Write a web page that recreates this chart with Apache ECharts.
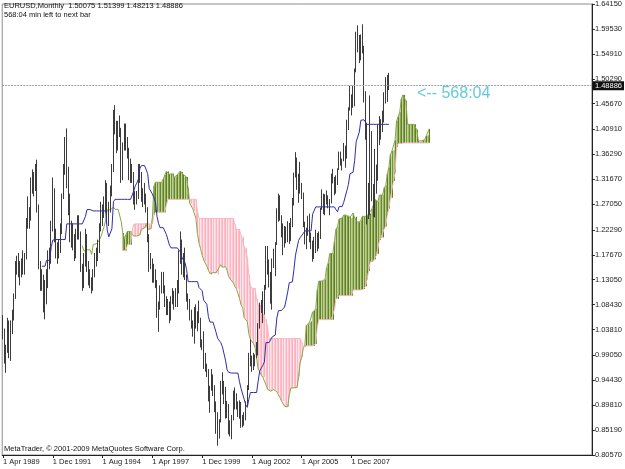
<!DOCTYPE html>
<html>
<head>
<meta charset="utf-8">
<script src="https://cdn.jsdelivr.net/npm/echarts@6/dist/echarts.min.js"></script>
<style>
html,body{margin:0;padding:0;background:#fff;}
#chart{width:625px;height:469px;}
</style>
</head>
<body>
<div id="chart"></div>
<script>
// ---- monthly EURUSD bars, Apr 1989 .. Dec 2009 (index 0 = Apr 1989) ----
const barOpen = [
1.045,1.035,0.985,1.005,1.050,0.995,1.050,1.068,1.100,
1.158,1.155,1.158,1.143,1.163,1.157,1.172,1.238,1.256,1.246,1.305,1.322,
1.303,1.313,1.262,1.157,1.124,1.131,1.081,1.124,1.124,1.178,1.164,1.230,
1.287,1.207,1.178,1.185,1.185,1.222,1.287,1.330,1.377,1.330,1.278,1.222,
1.207,1.207,1.178,1.215,1.238,1.215,1.150,1.124,1.164,1.207,1.157,1.131,
1.124,1.118,1.144,1.171,1.185,1.185,1.230,1.254,1.262,1.262,1.304,1.246,
1.262,1.295,1.340,1.417,1.417,1.377,1.417,1.407,1.322,1.377,1.397,1.387,
1.368,1.322,1.340,1.322,1.278,1.278,1.287,1.330,1.322,1.278,1.287,1.278,
1.262,1.207,1.157,1.164,1.131,1.144,1.124,1.063,1.087,1.111,1.131,1.111,
1.087,1.075,1.081,1.057,1.093,1.105,1.087,1.105,1.111,1.171,1.200,1.144,
1.171,1.137,1.098,1.078,1.058,1.043,1.035,1.072,1.054,1.068,1.055,1.007,
1.007,0.970,0.965,0.957,0.912,0.934,0.952,0.930,0.887,0.883,0.849,0.870,
0.939,0.933,0.921,0.879,0.888,0.847,0.848,0.877,0.913,0.911,0.904,0.890,
0.890,0.860,0.870,0.872,0.901,0.933,0.991,0.978,0.981,0.987,0.989,0.993,
1.049,1.073,1.078,1.091,1.116,1.180,1.150,1.125,1.099,1.165,1.159,1.199,
1.259,1.248,1.248,1.231,1.197,1.220,1.218,1.203,1.218,1.243,1.276,1.326,
1.356,1.304,1.326,1.296,1.288,1.230,1.210,1.212,1.232,1.203,1.199,1.179,
1.184,1.215,1.193,1.211,1.263,1.281,1.279,1.277,1.281,1.268,1.276,1.324,
1.320,1.299,1.323,1.335,1.365,1.345,1.354,1.369,1.364,1.426,1.448,1.463,
1.459,1.486,1.519,1.579,1.560,1.555,1.575,1.560,1.468,1.408,1.273,1.270,
1.397,1.280,1.267,1.325,1.323,1.415,1.403,1.426,1.433,1.464,1.472,1.50075
];
const barHigh = [
1.065,1.040,1.010,1.060,1.055,1.055,1.075,1.105,1.165,
1.175,1.180,1.165,1.170,1.185,1.180,1.245,1.285,1.265,1.320,1.335,1.330,
1.345,1.353,1.270,1.165,1.150,1.140,1.130,1.150,1.185,1.190,1.240,1.320,
1.300,1.225,1.200,1.205,1.235,1.290,1.345,1.395,1.411,1.340,1.290,1.240,
1.235,1.215,1.225,1.250,1.250,1.220,1.160,1.180,1.225,1.215,1.165,1.150,
1.135,1.150,1.180,1.190,1.205,1.235,1.275,1.270,1.285,1.315,1.310,1.275,
1.305,1.345,1.445,1.454,1.425,1.425,1.435,1.412,1.385,1.420,1.420,1.395,
1.375,1.355,1.345,1.330,1.295,1.295,1.345,1.345,1.330,1.300,1.310,1.290,
1.265,1.215,1.180,1.170,1.160,1.150,1.130,1.090,1.120,1.145,1.145,1.120,
1.100,1.095,1.090,1.100,1.115,1.110,1.115,1.130,1.185,1.220,1.205,1.180,
1.190,1.140,1.105,1.095,1.075,1.055,1.080,1.085,1.072,1.092,1.060,1.020,
1.035,0.995,0.975,0.965,0.934,0.965,0.955,0.935,0.905,0.885,0.872,0.943,
0.959,0.943,0.932,0.906,0.900,0.870,0.880,0.925,0.931,0.920,0.905,0.907,
0.904,0.880,0.885,0.905,0.935,0.995,1.020,0.990,0.995,0.992,1.015,1.050,
1.088,1.093,1.109,1.121,1.193,1.193,1.168,1.145,1.170,1.188,1.200,1.263,
1.290,1.287,1.250,1.235,1.230,1.229,1.239,1.236,1.245,1.282,1.329,1.367,
1.357,1.327,1.349,1.310,1.292,1.238,1.227,1.249,1.253,1.218,1.203,1.210,
1.223,1.217,1.220,1.264,1.298,1.290,1.289,1.296,1.287,1.280,1.327,1.336,
1.321,1.324,1.337,1.368,1.368,1.355,1.384,1.379,1.427,1.450,1.490,1.474,
1.490,1.522,1.590,1.602,1.584,1.585,1.604,1.564,1.480,1.420,1.310,1.472,
1.406,1.308,1.373,1.344,1.418,1.434,1.428,1.444,1.478,1.506,1.510,1.51399
];
const barLow = [
1.020,0.975,0.958,0.995,0.985,0.980,1.030,1.055,1.095,
1.140,1.135,1.120,1.135,1.140,1.140,1.168,1.225,1.225,1.240,1.290,1.285,
1.295,1.255,1.150,1.110,1.110,1.070,1.057,1.085,1.115,1.150,1.160,1.220,
1.200,1.170,1.160,1.170,1.180,1.215,1.280,1.325,1.300,1.250,1.200,1.190,
1.185,1.165,1.170,1.205,1.205,1.145,1.110,1.115,1.155,1.145,1.120,1.115,
1.105,1.110,1.135,1.155,1.165,1.180,1.220,1.230,1.245,1.255,1.235,1.230,
1.255,1.285,1.330,1.400,1.365,1.370,1.395,1.310,1.315,1.370,1.370,1.355,
1.315,1.310,1.310,1.270,1.260,1.270,1.280,1.310,1.275,1.265,1.270,1.255,
1.200,1.145,1.150,1.125,1.125,1.115,1.060,1.034,1.075,1.105,1.105,1.080,
1.065,1.065,1.050,1.055,1.085,1.075,1.080,1.080,1.105,1.160,1.140,1.135,
1.130,1.090,1.075,1.055,1.040,1.025,1.012,1.040,1.035,1.050,1.005,1.000,
0.965,0.960,0.950,0.905,0.884,0.925,0.915,0.885,0.845,0.823,0.836,0.866,
0.918,0.900,0.873,0.874,0.844,0.840,0.835,0.870,0.890,0.890,0.876,0.873,
0.856,0.857,0.860,0.870,0.896,0.926,0.970,0.960,0.963,0.970,0.985,0.990,
1.040,1.069,1.050,1.066,1.112,1.140,1.116,1.086,1.075,1.152,1.137,1.195,
1.238,1.240,1.209,1.176,1.190,1.198,1.200,1.197,1.202,1.228,1.268,1.320,
1.297,1.273,1.290,1.280,1.228,1.196,1.187,1.212,1.200,1.187,1.164,1.169,
1.180,1.183,1.188,1.206,1.260,1.252,1.250,1.270,1.263,1.250,1.272,1.309,
1.287,1.290,1.306,1.334,1.342,1.333,1.350,1.338,1.355,1.408,1.444,1.435,
1.449,1.452,1.515,1.552,1.532,1.537,1.550,1.459,1.390,1.233,1.243,1.250,
1.276,1.247,1.246,1.290,1.314,1.380,1.390,1.404,1.422,1.457,1.460,1.48213
];
const barClose = [
1.035,0.985,1.005,1.050,0.995,1.050,1.068,1.100,1.158,
1.155,1.158,1.143,1.163,1.157,1.172,1.238,1.256,1.246,1.305,1.322,1.303,
1.313,1.262,1.157,1.124,1.131,1.081,1.124,1.124,1.178,1.164,1.230,1.287,
1.207,1.178,1.185,1.185,1.222,1.287,1.330,1.377,1.330,1.278,1.222,1.207,
1.207,1.178,1.215,1.238,1.215,1.150,1.124,1.164,1.207,1.157,1.131,1.124,
1.118,1.144,1.171,1.185,1.185,1.230,1.254,1.262,1.262,1.304,1.246,1.262,
1.295,1.340,1.417,1.417,1.377,1.417,1.407,1.322,1.377,1.397,1.387,1.368,
1.322,1.340,1.322,1.278,1.278,1.287,1.330,1.322,1.278,1.287,1.278,1.262,
1.207,1.157,1.164,1.131,1.144,1.124,1.063,1.087,1.111,1.131,1.111,1.087,
1.075,1.081,1.057,1.093,1.105,1.087,1.105,1.111,1.171,1.200,1.144,1.171,
1.137,1.098,1.078,1.058,1.043,1.035,1.072,1.054,1.068,1.055,1.007,1.007,
0.970,0.965,0.957,0.912,0.934,0.952,0.930,0.887,0.883,0.849,0.870,0.939,
0.933,0.921,0.879,0.888,0.847,0.848,0.877,0.913,0.911,0.904,0.890,0.890,
0.860,0.870,0.872,0.901,0.933,0.991,0.978,0.981,0.987,0.989,0.993,1.049,
1.073,1.078,1.091,1.116,1.180,1.150,1.125,1.099,1.165,1.159,1.199,1.259,
1.248,1.248,1.231,1.197,1.220,1.218,1.203,1.218,1.243,1.276,1.326,1.356,
1.304,1.326,1.296,1.288,1.230,1.210,1.212,1.232,1.203,1.199,1.179,1.184,
1.215,1.193,1.211,1.263,1.281,1.279,1.277,1.281,1.268,1.276,1.324,1.320,
1.299,1.323,1.335,1.365,1.345,1.354,1.369,1.364,1.426,1.448,1.463,1.459,
1.486,1.519,1.579,1.560,1.555,1.575,1.560,1.468,1.408,1.273,1.270,1.397,
1.280,1.267,1.325,1.323,1.415,1.403,1.426,1.433,1.464,1.472,1.501,1.48886
];

// ---- Ichimoku lines ----
const kijunStart = 25;   // first category of the blue Kijun-sen line
const kijun = [
1.1555,1.1555,1.1555,1.1665,1.1665,1.1665,1.1915,1.204,1.205,1.205,          // 25-34
1.205,1.205,1.205,1.205,1.205,1.205,1.234,1.234,1.234,1.234,                 // 35-44
1.234,1.234,1.234,1.234,1.234,1.234,1.234,1.234,1.248,1.2605,                // 45-54
1.2605,1.2605,1.258,1.258,1.258,1.258,1.258,1.258,1.258,1.258,               // 55-64
1.258,1.258,1.2225,1.210,1.210,1.225,1.275,1.2795,1.2795,1.2795,             // 65-74
1.2795,1.2795,1.2795,1.2795,1.2795,1.2795,1.2795,1.2795,1.282,1.2945,        // 75-84
1.3045,1.3095,1.317,1.337,1.342,1.342,1.342,1.342,1.327,1.2995,              // 85-94
1.2995,1.2895,1.2895,1.275,1.2475,1.2345,1.227,1.227,1.227,1.227,            // 95-104
1.2145,1.2045,1.1945,1.1895,1.1895,1.1895,1.1895,1.1895,1.1895,1.182,        // 105-114
1.172,1.172,1.162,1.1495,1.127,1.127,1.127,1.127,1.127,1.127,                // 115-124
1.127,1.116,1.1125,1.110,1.0925,1.090,1.085,1.0625,1.052,1.052,              // 125-134
1.052,1.052,1.0325,1.0215,1.0215,1.014,1.0065,1.0065,0.9815,0.964,           // 135-144
0.959,0.9575,0.9575,0.9575,0.9575,0.9575,0.9575,0.9415,0.929,0.929,          // 145-154
0.909,0.899,0.894,0.909,0.9215,0.9215,0.9215,0.9215,0.9215,0.9425,           // 155-164
0.9615,0.964,0.972,0.978,1.014,1.014,1.014,1.014,1.0245,1.0245,              // 165-174
1.028,1.0595,1.073,1.073,1.0735,1.075,1.080,1.093,1.108,1.125,               // 175-184
1.125,1.1265,1.1495,1.176,1.1785,1.2035,1.2085,1.2085,1.2165,1.221,          // 185-194
1.221,1.221,1.221,1.221,1.252,1.252,1.2655,1.2655,1.2655,1.2655,             // 195-204
1.2655,1.2655,1.2655,1.2655,1.2655,1.2655,1.2655,1.2655,1.2655,1.2605,       // 205-214
1.2565,1.266,1.266,1.266,1.274,1.274,1.2955,1.307,1.327,1.327,               // 215-224
1.3295,1.351,1.3865,1.395,1.404,1.426,1.427,1.427,1.427,1.4185,              // 225-234
1.4185,1.4185,1.4185,1.4185,1.4185,1.4185,1.4185,1.4185,1.4185,1.4185,       // 235-244
1.4185,1.4185,1.4185,1.4185                                                  // 245-248
];
const spanAStart = 51;   // first category of Senkou Span A (drawn 26 bars ahead)
const spanA = [
1.1935,1.1835,1.180,1.186,1.186,1.186,1.1775,1.196,1.197,1.197,              // 51-60
1.197,1.204,1.211,1.220,1.229,1.241,1.260,1.260,1.260,1.262,                 // 61-70
1.265,1.261,1.261,1.261,1.261,1.238,1.217,1.207,1.214,1.220,                 // 71-80
1.220,1.220,1.218,1.2115,1.2115,1.2115,1.2115,1.214,1.224,1.224,             // 81-90
1.2265,1.235,1.224,1.2225,1.225,1.244,1.304,1.311,1.311,1.311,               // 91-100
1.311,1.311,1.317,1.3245,1.331,1.331,1.326,1.326,1.327,1.320,                // 101-110
1.322,1.325,1.3285,1.332,1.330,1.325,1.322,1.321,1.300,1.272,                // 111-120
1.272,1.262,1.2585,1.244,1.216,1.198,1.188,1.176,1.167,1.1645,               // 121-130
1.156,1.148,1.142,1.1395,1.1435,1.1435,1.1435,1.140,1.1535,1.1585,           // 131-140
1.1535,1.155,1.155,1.1485,1.137,1.132,1.1285,1.125,1.118,1.114,              // 141-150
1.114,1.096,1.084,1.079,1.0605,1.058,1.053,1.0305,1.020,1.020,               // 151-160
1.012,1.006,0.986,0.965,0.960,0.954,0.950,0.950,0.936,0.9275,                // 161-170
0.925,0.924,0.927,0.927,0.927,0.923,0.9205,0.912,0.906,0.906,                // 171-180
0.896,0.896,0.895,0.917,0.930,0.930,0.930,0.930,0.931,0.951,                 // 181-190
0.977,0.987,1.003,1.009,1.046,1.048,1.0515,1.053,1.0705,1.073,               // 191-200
1.0765,1.112,1.128,1.128,1.128,1.129,1.131,1.153,1.161,1.179,                // 201-210
1.179,1.179,1.201,1.224,1.2285,1.243,1.245,1.245,1.2505,1.251,               // 211-220
1.249,1.249,1.2465,1.2445,1.254,1.2445,1.247,1.237,1.237,1.240,              // 221-230
1.248,1.248,1.248,1.2495,1.252,1.253,1.2615,1.268,1.279,1.277,               // 231-240
1.275,1.2875,1.2875,1.2875,1.301,1.305,1.326,1.3385,1.3625,1.369,            // 241-250
1.3705,1.389,1.425,1.4325,1.441,1.4655,1.473,1.473,1.462,1.4185,             // 251-260
1.4185,1.4185,1.4185,1.4185,1.4185,1.4085,1.3875,1.3855,1.388,1.389,         // 261-270
1.390,1.397,1.398,1.410                                                      // 271-274
];
const spanBStart = 77;   // first category of Senkou Span B (drawn 26 bars ahead)
const spanB = [
1.1845,1.1845,1.1845,1.1955,1.1955,1.1955,1.2205,1.233,1.234,1.234,          // 77-86
1.234,1.234,1.234,1.234,1.234,1.234,1.234,1.234,1.234,1.234,                 // 87-96
1.251,1.2555,1.2555,1.2555,1.2555,1.2555,1.2555,1.2555,1.2695,1.2795,        // 97-106
1.2795,1.2795,1.2795,1.2795,1.2795,1.2795,1.2795,1.2795,1.2795,1.2795,       // 107-116
1.2795,1.2795,1.2795,1.2795,1.2795,1.2795,1.2795,1.2795,1.257,1.244,         // 117-126
1.244,1.244,1.244,1.244,1.244,1.244,1.244,1.244,1.244,1.244,                 // 127-136
1.244,1.244,1.244,1.244,1.244,1.244,1.244,1.244,1.244,1.244,                 // 137-146
1.244,1.244,1.233,1.2235,1.2235,1.2235,1.2125,1.210,1.1925,1.190,            // 147-156
1.1725,1.140,1.1195,1.1145,1.1145,1.1145,1.095,1.084,1.084,1.0765,           // 157-166
1.0665,1.0665,1.0565,1.044,1.0215,1.0215,1.0215,1.0215,1.0215,1.0215,        // 167-176
1.0215,1.0215,1.0215,1.0215,1.0215,1.0215,1.0215,1.0215,1.0215,1.0215,       // 177-186
1.0215,1.0215,1.0215,1.0215,1.0215,1.014,1.0065,1.0065,1.008,1.008,          // 187-196
1.008,1.008,1.008,1.008,1.0115,1.043,1.0565,1.0565,1.0565,1.0565,            // 197-206
1.0565,1.0565,1.0565,1.0565,1.0565,1.0565,1.076,1.095,1.095,1.101,           // 207-216
1.101,1.101,1.101,1.101,1.101,1.101,1.101,1.101,1.1115,1.1115,               // 217-226
1.1115,1.1115,1.1115,1.1115,1.112,1.1135,1.1185,1.1315,1.1465,1.1635,        // 227-236
1.1635,1.165,1.1685,1.176,1.1785,1.204,1.209,1.209,1.225,1.2295,             // 237-246
1.251,1.2625,1.2825,1.2825,1.3135,1.3295,1.377,1.383,1.383,1.383,            // 247-256
1.384,1.384,1.384,1.384,1.384,1.384,1.384,1.384,1.384,1.384,                 // 257-266
1.384,1.384,1.384,1.384,1.384,1.384,1.384,1.384                              // 267-274
];

// ---- axes ----
const categoryCount = 379;
const xTickIndex  = [0, 32, 64, 96, 128, 160, 192, 224];
const xTickLabels = ['1 Apr 1989','1 Dec 1991','1 Aug 1994','1 Apr 1997','1 Dec 1999','1 Aug 2002','1 Apr 2005','1 Dec 2007'];
const yTickValues = [1.64150,1.59530,1.54910,1.50290,1.45670,1.40910,1.36290,1.31670,1.27050,1.22290,
                     1.17670,1.13050,1.08430,1.03810,0.99050,0.94430,0.89810,0.85190,0.80570];
const yMin = 0.80570, yMax = 1.64150;

// ---- build what the library needs ----
const cats = [];
for (let i = 0; i < categoryCount; i++) cats.push(String(i));
const candle = barOpen.map((o, i) => [o, barClose[i], barLow[i], barHigh[i]]);
function place(arr, start) {
  const out = new Array(categoryCount).fill(null);
  arr.forEach((v, k) => { out[start + k] = v; });
  return out;
}
const kijunData = place(kijun, kijunStart);
const spanAData = place(spanA, spanAStart);
const spanBData = place(spanB, spanBStart);
const cloudData = [];
for (let i = spanBStart; i < categoryCount; i++) {
  const a = spanAData[i], b = spanBData[i];
  if (a == null || b == null) continue;
  cloudData.push([i, Math.min(a, b), Math.max(a, b), a >= b ? 1 : 0]);
}
const last = barClose.length - 1;
const fmt = v => v.toFixed(5);
const FONT = '"Liberation Sans", Arial, sans-serif';

function renderCloud(params, api) {
  const i = api.value(0);
  const pLo = api.coord([i, api.value(1)]);
  const pHi = api.coord([i, api.value(2)]);
  const w = api.size([1, 0])[0];
  const up = api.value(3) === 1;
  const h = Math.max(pLo[1] - pHi[1], 0.5);
  const xc = Math.round(pLo[0]) + 0.5;
  return {
    type: 'group',
    children: [
      {type: 'rect', shape: {x: pLo[0] - w / 2, y: pHi[1], width: w, height: h},
       style: {fill: up ? '#bccf93' : '#ffe4e9'}},
      {type: 'line', shape: {x1: xc, y1: pHi[1], x2: xc, y2: pHi[1] + h},
       style: {stroke: up ? '#5f7f20' : '#ffafbc', lineWidth: 1}}
    ]
  };
}

const chart = echarts.init(document.getElementById('chart'), null, {renderer: 'canvas'});
chart.setOption({
  animation: false,
  backgroundColor: '#ffffff',
  grid: {left: 2, right: 31, top: 1, bottom: 14, show: true, borderColor: '#8c8c8c', borderWidth: 1, backgroundColor: '#ffffff'},
  xAxis: {
    type: 'category', data: cats, boundaryGap: true,
    axisLine: {show: true, lineStyle: {color: '#222', width: 1}},
    axisTick: {show: true, alignWithLabel: true, length: 3, lineStyle: {color: '#222'},
               interval: (i) => xTickIndex.indexOf(i) >= 0},
    axisLabel: {show: true, interval: (i) => xTickIndex.indexOf(i) >= 0,
                formatter: (v, i) => { const k = xTickIndex.indexOf(i); return k >= 0 ? xTickLabels[k] : ''; },
                align: 'left', margin: 3, fontSize: 7.5, color: '#222', fontFamily: FONT},
    splitLine: {show: false}
  },
  yAxis: {
    type: 'value', position: 'right', min: yMin, max: yMax, scale: true,
    axisLine: {show: true, lineStyle: {color: '#222', width: 1}},
    axisTick: {show: true, length: 3, customValues: yTickValues, lineStyle: {color: '#222'}},
    axisLabel: {show: true, customValues: yTickValues, formatter: (v) => fmt(v), margin: 3,
                fontSize: 7.5, color: '#222', fontFamily: FONT},
    splitLine: {show: false}
  },
  graphic: [
    {type: 'text', left: 4, top: 2, z: 100, style: {text: 'EURUSD,Monthly  ' + fmt(barOpen[last]) + ' ' + fmt(barHigh[last]) + ' ' + fmt(barLow[last]) + ' ' + fmt(barClose[last]), font: '7.5px ' + FONT, fill: '#111'}},
    {type: 'text', left: 4, top: 11, z: 100, style: {text: '568:04 min left to next bar', font: '7.5px ' + FONT, fill: '#111'}},
    {type: 'text', left: 4, top: 445, z: 100, style: {text: 'MetaTrader, \u00a9 2001-2009 MetaQuotes Software Corp.', font: '7.5px ' + FONT, fill: '#111'}},
    {type: 'text', left: 417, top: 86, z: 100, style: {text: '<-- 568:04', font: '16px ' + FONT, fill: '#62cad9'}}
  ],
  series: [
    {type: 'custom', name: 'Kumo', data: cloudData, renderItem: renderCloud, silent: true, clip: true,
     encode: {x: 0, y: [1, 2]}, z: 1},
    {type: 'line', name: 'Senkou Span A', data: spanAData, showSymbol: false, silent: true,
     lineStyle: {color: '#8aa648', width: 1}, z: 2},
    {type: 'line', name: 'Senkou Span B', data: spanBData, showSymbol: false, silent: true,
     lineStyle: {color: '#f7b8c2', width: 1}, z: 2},
    {type: 'candlestick', name: 'EURUSD', data: candle, barWidth: 1.2, silent: true,
     itemStyle: {color: '#9a9a9a', color0: '#9a9a9a', borderColor: '#3c3c3c', borderColor0: '#3c3c3c', borderWidth: 1},
     markLine: {symbol: 'none', silent: true, animation: false,
       data: [{yAxis: barClose[last]}],
       lineStyle: {color: '#a0a0a0', type: [2, 1], width: 1},
       label: {show: true, position: 'end', formatter: fmt(barClose[last]), distance: 1,
               backgroundColor: '#111', color: '#fff', padding: [1, 2, 0, 2], fontSize: 7.5, fontFamily: FONT}},
     z: 3},
    {type: 'line', name: 'Kijun-sen', data: kijunData, showSymbol: false, silent: true,
     lineStyle: {color: '#2e2ea8', width: 1}, z: 4}
  ]
});
</script>
</body>
</html>
